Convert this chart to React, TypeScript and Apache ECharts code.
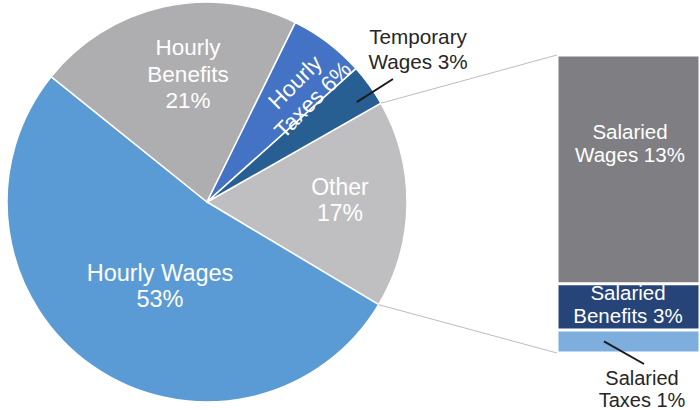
import React, { useEffect, useRef } from 'react';
import * as echarts from 'echarts';

// ---- data ----
const pieNames = ['Other', 'Hourly Wages', 'Hourly Benefits', 'Hourly Taxes', 'Temporary Wages'];
const pieValues = [16.8, 52.2, 21.5, 6.1, 3.4];
const pieShown = ['17%', '53%', '21%', '6%', '3%'];

const barNames = ['Salaried Taxes', 'Salaried Benefits', 'Salaried Wages'];
const barValues = [1.3, 2.6, 12.9];
const barShown = ['1%', '3%', '13%'];

// ---- styles / layout ----
const pieColors: Record<string, string> = {
  'Other': '#BFBFC2',
  'Hourly Wages': '#5B9BD5',
  'Hourly Benefits': '#AEAEB1',
  'Hourly Taxes': '#4472C4',
  'Temporary Wages': '#285F92',
};
const barColors: Record<string, string> = {
  'Salaried Taxes': '#7DAEDE',
  'Salaried Benefits': '#264478',
  'Salaried Wages': '#7F7F83',
};

const W = 700, H = 410;
const CX = 207, CY = 202, R = 200, START = 29.6;
const GRID_LEFT = 557, GRID_TOP = 55, GRID_BOTTOM = 57;
const FONT = '"Liberation Sans", Arial, sans-serif';

// label placement (text block centres); breakAt: word index where the line breaks ('all' = every word)
const pieLabelPos: Record<string, any> = {
  'Hourly Wages': { x: 160, y: 286, size: 23.5, lh: 26.5, color: '#fff', breakAt: 2 },
  'Hourly Benefits': { x: 188, y: 74, size: 22.5, lh: 26.5, color: '#fff', breakAt: 'all' },
  'Other': { x: 340, y: 200, size: 23, lh: 26, color: '#fff', breakAt: 1 },
  'Hourly Taxes': { x: 304, y: 91, size: 22.5, lh: 25, color: '#fff', rot: 45, breakAt: 1 },
  'Temporary Wages': { x: 418, y: 49, size: 20.7, lh: 25.7, color: '#262626', breakAt: 1 },
};
const barLabelPos: Record<string, any> = {
  'Salaried Wages': { x: 630, y: 143, size: 20.5, lh: 22.5, color: '#fff', breakAt: 1 },
  'Salaried Benefits': { x: 628, y: 304, size: 20.5, lh: 22.5, color: '#fff', breakAt: 1 },
  'Salaried Taxes': { x: 642, y: 389, size: 20, lh: 22.5, color: '#262626', breakAt: 1 },
};

function labelText(name: string, pct: string, breakAt: number | string): string {
  const words = name.split(' ');
  if (breakAt === 'all') return [...words, pct].join('\n');
  const b = breakAt as number;
  const first = words.slice(0, b).join(' ');
  const rest = [...words.slice(b), pct].join(' ');
  return first + '\n' + rest;
}

export default function App() {
  const ref = useRef<HTMLDivElement>(null);
  useEffect(() => {
    if (!ref.current) return;
    const chart = echarts.init(ref.current, undefined, { renderer: 'svg' });

    const total = pieValues.reduce((a, b) => a + b, 0);
    const rad = (d: number) => (d * Math.PI) / 180;
    const pt = (ang: number, r: number) => [CX + r * Math.cos(rad(ang)), CY - r * Math.sin(rad(ang))];

    const angles: Record<string, [number, number]> = {};
    let a = START;
    pieNames.forEach((n, i) => {
      const span = (pieValues[i] / total) * 360;
      angles[n] = [a, a - span];
      a -= span;
    });

    const [oA0, oA1] = angles['Other'];
    const pTop = pt(oA0, R);
    const pBot = pt(oA1, R);
    const barTop = GRID_TOP;
    const barBottom = H - GRID_BOTTOM;

    const graphics: any[] = [];
    graphics.push({ type: 'line', z: 50, shape: { x1: pTop[0], y1: pTop[1], x2: GRID_LEFT, y2: barTop }, style: { stroke: '#BDBDBD', lineWidth: 1 } });
    graphics.push({ type: 'line', z: 50, shape: { x1: pBot[0], y1: pBot[1], x2: GRID_LEFT, y2: barBottom }, style: { stroke: '#BDBDBD', lineWidth: 1 } });

    const [tA0, tA1] = angles['Temporary Wages'];
    const tMid = (tA0 + tA1) / 2;
    const tStart = pt(tMid - 2, 180);
    graphics.push({ type: 'line', z: 60, shape: { x1: tStart[0], y1: tStart[1], x2: 393, y2: 79 }, style: { stroke: '#1a1a1a', lineWidth: 2 } });

    const barH = barBottom - barTop;
    const barTotal = barValues.reduce((s, v) => s + v, 0);
    const taxMidY = barBottom - (barValues[0] / barTotal) * barH / 2;
    graphics.push({ type: 'line', z: 60, shape: { x1: 604, y1: taxMidY, x2: 644, y2: 364 }, style: { stroke: '#1a1a1a', lineWidth: 2 } });

    pieNames.forEach((n, i) => {
      const p = pieLabelPos[n];
      graphics.push({
        type: 'text', z: 100, x: p.x, y: p.y,
        rotation: p.rot ? rad(p.rot) : 0,
        style: {
          text: labelText(n, pieShown[i], p.breakAt),
          fill: p.color, fontSize: p.size, fontFamily: FONT,
          align: 'center', verticalAlign: 'middle', lineHeight: p.lh,
        },
      });
    });
    barNames.forEach((n, i) => {
      const p = barLabelPos[n];
      graphics.push({
        type: 'text', z: 100, x: p.x, y: p.y,
        style: {
          text: labelText(n, barShown[i], p.breakAt),
          fill: p.color, fontSize: p.size, fontFamily: FONT,
          align: 'center', verticalAlign: 'middle', lineHeight: p.lh,
        },
      });
    });

    chart.setOption({
      animation: false,
      grid: { left: GRID_LEFT, right: -20, top: GRID_TOP, bottom: GRID_BOTTOM, containLabel: false },
      xAxis: { type: 'category', data: ['Other'], show: false },
      yAxis: { type: 'value', min: 0, max: barTotal, show: false },
      series: [
        {
          type: 'pie',
          center: [CX, CY],
          radius: [0, R],
          startAngle: START,
          clockwise: true,
          label: { show: false },
          labelLine: { show: false },
          emphasis: { disabled: true },
          itemStyle: { borderColor: '#fff', borderWidth: 1.5 },
          data: pieNames.map((n, i) => ({ name: n, value: pieValues[i], itemStyle: { color: pieColors[n] } })),
        },
        ...barNames.map((n, i) => ({
          type: 'bar',
          name: n,
          stack: 'other',
          barWidth: '100%',
          data: [barValues[i]],
          itemStyle: { color: barColors[n], borderColor: '#fff', borderWidth: 1.5 },
          label: { show: false },
          emphasis: { disabled: true },
        })),
      ],
      graphic: graphics,
    });

    return () => chart.dispose();
  }, []);

  return (
    <div
      ref={ref}
      style={{ position: 'fixed', left: 0, top: 0, width: W, height: H, background: '#fff' }}
    />
  );
}
